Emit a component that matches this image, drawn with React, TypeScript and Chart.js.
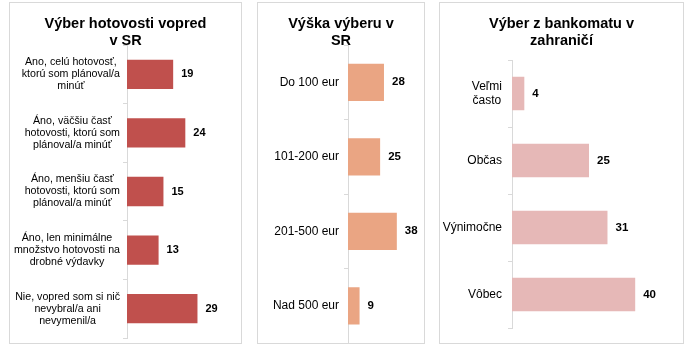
import React, { useEffect, useRef } from "react";
import { Chart, registerables } from "chart.js";

Chart.register(...registerables);

// ---- Data ----
const cashTitle = ["Výber hotovosti vopred", "v SR"];
const cashCategories = [
  ["Ano, celú hotovosť,", "ktorú som plánoval/a", "minúť"],
  ["Áno, väčšiu časť", "hotovosti, ktorú som", "plánoval/a minúť"],
  ["Áno, menšiu časť", "hotovosti, ktorú som", "plánoval/a minúť"],
  ["Áno, len minimálne", "množstvo hotovosti na", "drobné výdavky"],
  ["Nie, vopred som si nič", "nevybral/a ani", "nevymenil/a"],
];
const cashValues = [19, 24, 15, 13, 29];

const amountTitle = ["Výška výberu v", "SR"];
const amountCategories = [["Do 100 eur"], ["101-200 eur"], ["201-500 eur"], ["Nad 500 eur"]];
const amountValues = [28, 25, 38, 9];

const abroadTitle = ["Výber z bankomatu v", "zahraničí"];
const abroadCategories = [["Veľmi", "často"], ["Občas"], ["Výnimočne"], ["Vôbec"]];
const abroadValues = [4, 25, 31, 40];

const FONT = "'Liberation Sans', Arial, sans-serif";

type PanelProps = {
  left: number;
  top: number;
  width: number;
  height: number;
  title: string[];
  categories: string[][];
  values: number[];
  color: string;
  yWidth: number;
  padTop: number;
  padBottom: number;
  padRight: number;
  max: number;
  labelSize: number;
  labelLineHeight: number;
  labelGap: number;
  valueSize: number;
};

function Panel(p: PanelProps) {
  const ref = useRef<HTMLCanvasElement | null>(null);
  const cw = p.width - 2;
  const ch = p.height - 2;

  useEffect(() => {
    if (!ref.current) return;
    const textPlugin = {
      id: "texts",
      afterDraw(chart: any) {
        const ctx = chart.ctx;
        ctx.save();
        // Title
        ctx.fillStyle = "#000";
        ctx.textAlign = "center";
        ctx.textBaseline = "alphabetic";
        ctx.font = `bold 14.5px ${FONT}`;
        const tb = [25, 41.5];
        p.title.forEach((line, i) => ctx.fillText(line, chart.width / 2, tb[i]));
        // Category labels
        const yScale = chart.scales.y;
        ctx.font = `${p.labelSize}px ${FONT}`;
        ctx.textBaseline = "middle";
        ctx.textAlign = "center";
        const right = chart.chartArea.left - p.labelGap;
        p.categories.forEach((lines, i) => {
          const y = yScale.getPixelForValue(i);
          const w = Math.max(...lines.map((l) => ctx.measureText(l).width));
          const cx = right - w / 2;
          const y0 = y - ((lines.length - 1) * p.labelLineHeight) / 2;
          lines.forEach((l, j) => ctx.fillText(l, cx, y0 + j * p.labelLineHeight));
        });
        // Value labels
        ctx.font = `bold ${p.valueSize}px ${FONT}`;
        ctx.textAlign = "left";
        const meta = chart.getDatasetMeta(0);
        meta.data.forEach((bar: any, i: number) => {
          ctx.fillText(String(p.values[i]), bar.x + 8, bar.y);
        });
        ctx.restore();
      },
    };

    const chart = new Chart(ref.current, {
      type: "bar",
      data: {
        labels: p.categories.map((c) => c.join(" ")),
        datasets: [
          {
            data: p.values,
            backgroundColor: p.color,
            borderWidth: 0,
            barPercentage: 0.5,
            categoryPercentage: 1,
          },
        ],
      },
      options: {
        indexAxis: "y",
        responsive: false,
        animation: false,
        devicePixelRatio: 1,
        layout: { padding: { top: p.padTop, bottom: p.padBottom, right: p.padRight, left: 0 } },
        plugins: { legend: { display: false }, tooltip: { enabled: false }, title: { display: false } },
        scales: {
          x: { display: false, min: 0, max: p.max },
          y: {
            type: "category",
            grid: {
              display: true,
              offset: true,
              drawOnChartArea: false,
              drawTicks: true,
              tickLength: 4,
              color: "#d9d9d9",
            },
            border: { display: true, color: "#d9d9d9" },
            ticks: { display: false },
            afterFit(scale: any) {
              scale.width = p.yWidth;
            },
          },
        },
      },
      plugins: [textPlugin],
    } as any);
    return () => chart.destroy();
  }, []);

  return (
    <div
      style={{
        position: "absolute",
        left: p.left,
        top: p.top,
        width: p.width,
        height: p.height,
        boxSizing: "border-box",
        border: "1px solid #d9d9d9",
        background: "#fff",
      }}
    >
      <canvas ref={ref} width={cw} height={ch} style={{ display: "block", width: cw, height: ch }} />
    </div>
  );
}

export default function App() {
  return (
    <div style={{ position: "absolute", left: 0, top: 0, width: 692, height: 348, background: "#fff" }}>
      <Panel
        left={9}
        top={2}
        width={233}
        height={342}
        title={cashTitle}
        categories={cashCategories}
        values={cashValues}
        color="#C0504D"
        yWidth={117}
        padTop={42}
        padBottom={5}
        padRight={16.8}
        max={40}
        labelSize={10.67}
        labelLineHeight={12}
        labelGap={7}
        valueSize={11}
      />
      <Panel
        left={257}
        top={2}
        width={168}
        height={342}
        title={amountTitle}
        categories={amountCategories}
        values={amountValues}
        color="#EAA583"
        yWidth={90}
        padTop={42}
        padBottom={0}
        padRight={11.75}
        max={50}
        labelSize={12}
        labelLineHeight={13}
        labelGap={9}
        valueSize={11.5}
      />
      <Panel
        left={439}
        top={2}
        width={245}
        height={342}
        title={abroadTitle}
        categories={abroadCategories}
        values={abroadValues}
        color="#E6B8B7"
        yWidth={72}
        padTop={57}
        padBottom={15}
        padRight={17}
        max={50}
        labelSize={12}
        labelLineHeight={13.5}
        labelGap={10}
        valueSize={11.5}
      />
    </div>
  );
}
